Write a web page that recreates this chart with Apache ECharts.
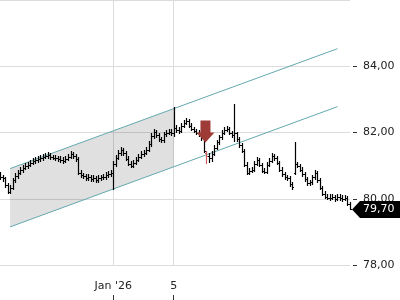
<!DOCTYPE html>
<html>
<head>
<meta charset="utf-8">
<script src="https://cdn.jsdelivr.net/npm/echarts@6/dist/echarts.min.js"></script>
<style>html,body{margin:0;padding:0;background:#fff;}#c{width:400px;height:300px;}</style>
</head>
<body>
<div id="c"></div>
<script>
// ---- data ----
// OHLC bars: [open, high, low, close]
var ohlc = [
[80.72,80.78,80.60,80.65],[80.65,80.70,80.55,80.62],[80.62,80.64,80.36,80.41],[80.41,80.45,80.17,80.21],
[80.21,80.38,80.18,80.32],[80.32,80.60,80.28,80.56],[80.56,80.74,80.52,80.68],[80.68,80.84,80.62,80.79],
[80.79,80.93,80.74,80.88],[80.88,80.99,80.82,80.94],[80.94,81.06,80.90,81.00],[81.00,81.08,80.92,81.03],
[81.03,81.13,80.98,81.09],[81.09,81.19,81.04,81.15],[81.15,81.23,81.08,81.18],[81.18,81.26,81.12,81.21],
[81.21,81.28,81.15,81.24],[81.24,81.31,81.18,81.26],[81.26,81.34,81.22,81.29],[81.29,81.38,81.24,81.32],
[81.32,81.35,81.20,81.26],[81.26,81.30,81.19,81.24],[81.24,81.29,81.18,81.24],[81.24,81.27,81.15,81.21],
[81.21,81.25,81.12,81.18],[81.18,81.22,81.09,81.15],[81.15,81.26,81.12,81.21],[81.21,81.32,81.18,81.26],
[81.26,81.40,81.22,81.35],[81.35,81.38,81.24,81.29],[81.29,81.33,81.15,81.21],[81.21,81.24,80.74,80.79],
[80.79,80.84,80.65,80.71],[80.71,80.76,80.62,80.68],[80.68,80.72,80.56,80.62],[80.62,80.71,80.58,80.65],
[80.65,80.68,80.53,80.59],[80.59,80.68,80.55,80.62],[80.62,80.65,80.50,80.56],[80.56,80.68,80.52,80.62],
[80.62,80.70,80.58,80.65],[80.65,80.72,80.59,80.65],[80.65,80.77,80.61,80.71],[80.71,80.80,80.66,80.74],
[80.74,80.85,80.70,80.79],[80.79,81.12,80.29,81.05],[81.05,81.30,81.00,81.24],[81.24,81.44,81.20,81.38],
[81.38,81.52,81.33,81.47],[81.47,81.50,81.32,81.38],[81.38,81.42,81.16,81.21],[81.21,81.25,81.01,81.06],
[81.06,81.10,80.95,81.00],[81.00,81.14,80.96,81.09],[81.09,81.23,81.05,81.18],[81.18,81.31,81.13,81.26],
[81.26,81.40,81.22,81.35],[81.35,81.44,81.30,81.38],[81.38,81.53,81.34,81.47],[81.47,81.71,81.43,81.65],
[81.65,81.94,81.60,81.88],[81.88,82.09,81.84,82.03],[82.03,82.06,81.86,81.91],[81.91,81.95,81.73,81.79],
[81.79,81.84,81.70,81.76],[81.76,82.00,81.72,81.94],[81.94,82.06,81.90,82.00],[82.00,82.09,81.95,82.03],
[82.03,82.07,81.92,81.97],[81.97,82.73,81.88,82.15],[82.15,82.19,82.03,82.09],[82.09,82.13,82.00,82.06],
[82.06,82.27,82.02,82.21],[82.21,82.35,82.17,82.30],[82.30,82.41,82.26,82.35],[82.35,82.38,82.16,82.21],
[82.21,82.25,82.07,82.12],[82.12,82.15,82.01,82.06],[82.06,82.09,81.95,82.00],[82.00,82.04,81.89,81.94],
[81.94,81.98,81.76,81.82],[81.82,81.85,81.40,81.45],[81.38,81.40,81.09,81.30],[81.30,81.36,81.10,81.22],
[81.22,81.40,81.15,81.36],[81.36,81.58,81.32,81.54],[81.54,81.74,81.50,81.70],[81.70,81.88,81.65,81.85],
[81.85,82.04,81.80,82.00],[82.00,82.13,81.96,82.09],[82.09,82.18,82.04,82.12],[82.12,82.15,81.96,82.00],
[82.00,82.03,81.87,81.91],[81.91,82.82,81.73,81.97],[81.97,82.00,81.74,81.79],[81.79,81.83,81.57,81.62],
[81.62,81.66,81.40,81.44],[81.44,81.48,80.98,81.03],[81.03,81.07,80.74,80.79],[80.79,80.90,80.75,80.85],
[80.85,80.93,80.80,80.88],[80.88,81.10,80.84,81.06],[81.06,81.23,81.02,81.18],[81.18,81.21,80.98,81.03],
[81.03,81.06,80.80,80.85],[80.85,80.90,80.77,80.82],[80.82,81.08,80.78,81.03],[81.03,81.20,80.99,81.15],
[81.15,81.35,81.10,81.29],[81.29,81.33,81.18,81.24],[81.24,81.27,81.04,81.09],[81.09,81.12,80.83,80.88],
[80.88,80.92,80.69,80.74],[80.74,80.78,80.60,80.65],[80.65,80.70,80.56,80.62],[80.62,80.66,80.39,80.44],
[80.44,80.48,80.30,80.35],[80.78,81.68,80.74,81.05],[81.05,81.08,80.95,81.00],[81.00,81.03,80.84,80.88],
[80.88,80.92,80.69,80.74],[80.74,80.78,80.55,80.59],[80.59,80.63,80.43,80.47],[80.47,80.55,80.42,80.50],
[80.50,80.70,80.46,80.65],[80.65,80.84,80.60,80.79],[80.79,80.82,80.51,80.56],[80.56,80.60,80.28,80.32],
[80.32,80.36,80.10,80.15],[80.15,80.19,80.02,80.06],[80.06,80.12,79.98,80.03],[80.03,80.10,79.95,80.03],
[80.03,80.11,79.99,80.06],[80.06,80.09,79.94,80.00],[80.00,80.12,79.96,80.06],[80.06,80.10,79.97,80.03],
[80.03,80.07,79.93,80.00],[80.00,80.08,79.95,80.03],[80.03,80.06,79.80,79.85],[79.85,79.88,79.68,79.70]
];
// x-axis labelled bars
var tickIndex = [45, 69];
var tickLabels = ["Jan '26", "5"];
// y-axis ticks
var yMin = 78, yMax = 86, yStep = 2;
// trend channel: [barIndex, price]
var channelUpper = [[4, 80.91], [134, 84.53]];
var channelLower = [[4, 79.15], [134, 82.78]];
var shadeEndIndex = 69;
// sell signal
var signalIndex = 82;
var signalPrice = 81.70;
// last price
var lastPrice = 79.70;

// ---- chart ----
var categories = ohlc.map(function (d, i) { return i; });
var ohlcData = ohlc.map(function (d, i) { return [i, d[0], d[1], d[2], d[3]]; });
var FONT = 'DejaVu Sans';
function fmt(v) { return v.toFixed(2).replace('.', ','); }
function lerp(p0, p1, x) { return p0[1] + (p1[1] - p0[1]) * (x - p0[0]) / (p1[0] - p0[0]); }
function isTick(i) { return tickIndex.indexOf(i) >= 0; }

var chart = echarts.init(document.getElementById('c'), null, { renderer: 'canvas' });
chart.setOption({
  animation: false,
  backgroundColor: '#ffffff',
  grid: { left: 0, right: 50, top: -7, bottom: 35, containLabel: false },
  xAxis: [{
    type: 'category', data: categories, boundaryGap: false,
    axisLine: { show: false }, axisTick: { show: false },
    axisLabel: {
      interval: function (i) { return isTick(i); },
      formatter: function (v, i) { var k = tickIndex.indexOf(Number(v)); return k >= 0 ? tickLabels[k] : ''; },
      margin: 16, fontFamily: FONT, fontSize: 11, color: '#222'
    },
    splitLine: { show: true, interval: function (i) { return isTick(i); }, lineStyle: { color: '#dcdcdc', width: 1 } }
  }, {
    type: 'category', data: categories, boundaryGap: false, position: 'bottom', offset: 30,
    axisLine: { show: false },
    axisTick: { show: true, interval: function (i) { return isTick(i); }, length: 5, lineStyle: { color: '#333' } },
    axisLabel: { show: false }, splitLine: { show: false }
  }],
  yAxis: {
    type: 'value', position: 'right', min: yMin, max: yMax, interval: yStep, offset: 3,
    axisLine: { show: false },
    axisTick: { show: true, length: 4, lineStyle: { color: '#333' } },
    axisLabel: { showMaxLabel: false, margin: 10, fontFamily: FONT, fontSize: 11, color: '#222', formatter: fmt },
    splitLine: { show: true, lineStyle: { color: '#dcdcdc', width: 1 } }
  },
  series: [
    {
      type: 'custom', name: 'shade', z: 1, silent: true,
      data: [[channelUpper[0][0], channelUpper[0][1]]],
      encode: { x: 0, y: 1 },
      renderItem: function (params, api) {
        var x0 = channelUpper[0][0], x1 = shadeEndIndex;
        var pts = [
          api.coord([x0, lerp(channelUpper[0], channelUpper[1], x0)]),
          api.coord([x1, lerp(channelUpper[0], channelUpper[1], x1)]),
          api.coord([x1, lerp(channelLower[0], channelLower[1], x1)]),
          api.coord([x0, lerp(channelLower[0], channelLower[1], x0)])
        ];
        return { type: 'polygon', shape: { points: pts }, style: { fill: 'rgba(0,0,0,0.12)' } };
      }
    },
    {
      type: 'line', name: 'upper', data: channelUpper, showSymbol: false, symbol: 'none', z: 3, silent: true,
      lineStyle: { color: '#63a9ae', width: 1 }
    },
    {
      type: 'line', name: 'lower', data: channelLower, showSymbol: false, symbol: 'none', z: 3, silent: true,
      lineStyle: { color: '#63a9ae', width: 1 }
    },
    {
      type: 'custom', name: 'ohlc', z: 4,
      dimensions: ['i', 'open', 'high', 'low', 'close'],
      encode: { x: 0, y: [1, 2, 3, 4] },
      data: ohlcData,
      renderItem: function (params, api) {
        var i = api.value(0);
        var o = api.coord([i, api.value(1)]);
        var h = api.coord([i, api.value(2)]);
        var l = api.coord([i, api.value(3)]);
        var c = api.coord([i, api.value(4)]);
        var x = Math.round(o[0]) + 0.5;
        var col = i === signalIndex ? '#c8585a' : '#000';
        var st = { stroke: col, lineWidth: 1.2 };
        return { type: 'group', children: [
          { type: 'line', shape: { x1: x, y1: Math.round(h[1]) - 1, x2: x, y2: Math.round(l[1]) + 1 }, style: st },
          { type: 'line', shape: { x1: x - 1.5, y1: Math.round(o[1]) + 0.5, x2: x, y2: Math.round(o[1]) + 0.5 }, style: st },
          { type: 'line', shape: { x1: x, y1: Math.round(c[1]) + 0.5, x2: x + 1.5, y2: Math.round(c[1]) + 0.5 }, style: st }
        ] };
      }
    },
    {
      type: 'custom', name: 'signal', z: 5, silent: true,
      data: [[signalIndex, signalPrice]],
      encode: { x: 0, y: 1 },
      renderItem: function (params, api) {
        var p = api.coord([api.value(0), api.value(1)]);
        var x = p[0] - 1, y = p[1];
        return { type: 'polygon', shape: { points: [
          [x - 5, y - 22], [x + 5, y - 22], [x + 5, y - 10], [x + 9, y - 10],
          [x, y], [x - 9, y - 10], [x - 5, y - 10]
        ] }, style: { fill: '#9e3b36' } };
      }
    },
    {
      type: 'custom', name: 'last', z: 6, silent: true, clip: false,
      data: [[ohlc.length - 1, lastPrice]],
      encode: { x: 0, y: 1 },
      renderItem: function (params, api) {
        var p = api.coord([api.value(0), api.value(1)]);
        var x = p[0] + 2, y = Math.round(p[1]) + 0.5;
        return { type: 'group', children: [
          { type: 'polygon', shape: { points: [[x, y], [x + 8, y - 8.5], [x + 60, y - 8.5], [x + 60, y + 8.5], [x + 8, y + 8.5]] },
            style: { fill: '#000' } },
          { type: 'text', x: x + 11, y: y, style: { text: fmt(api.value(1)), fill: '#fff', font: '11px "DejaVu Sans"', verticalAlign: 'middle', align: 'left' } }
        ] };
      }
    }
  ]
});
</script>
</body>
</html>
